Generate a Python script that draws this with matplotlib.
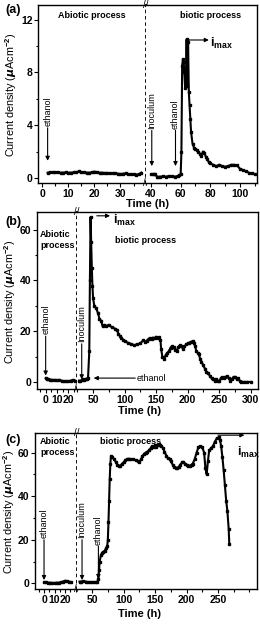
import matplotlib
matplotlib.use("Agg")
import matplotlib.pyplot as plt
from matplotlib.ticker import MultipleLocator, FixedLocator

plt.rcParams['font.family'] = ['Liberation Sans', 'DejaVu Sans']
plt.rcParams['font.weight'] = 'bold'
plt.rcParams['mathtext.fontset'] = 'custom'
plt.rcParams['mathtext.rm'] = 'Liberation Sans'
plt.rcParams['mathtext.bf'] = 'Liberation Sans:bold'

# panel (a): abiotic part (h, uA cm-2)
a_abio_t = [2, 3, 4, 5, 6, 7, 8, 9, 10, 11, 12, 13, 14, 15, 16, 17, 18, 19, 20,
            21, 22, 23, 24, 25, 26, 27, 28, 29, 30, 31, 32, 33, 34, 35, 36, 37, 38]
a_abio_j = [0.40, 0.42, 0.45, 0.43, 0.42, 0.40, 0.41, 0.42, 0.40, 0.41, 0.42, 0.44,
            0.50, 0.45, 0.42, 0.41, 0.40, 0.43, 0.48, 0.45, 0.40, 0.40, 0.38, 0.38,
            0.37, 0.36, 0.35, 0.33, 0.30, 0.33, 0.35, 0.30, 0.28, 0.27, 0.26, 0.28, 0.40]
# panel (a): biotic part
a_bio_t = [40, 41, 42, 43, 44, 45, 46, 48, 50, 52, 54, 56, 58, 59, 60, 60.5, 61, 61.5,
           62, 62.5, 63, 63.5, 64, 64.5, 65, 65.5, 66, 66.5, 67, 68, 69, 70, 71, 72, 73,
           74, 75, 76, 77, 78, 79, 80, 82, 84, 86, 88, 90, 92, 94, 96, 98, 100, 102,
           104, 106, 108, 110]
a_bio_j = [0.30, 0.30, 0.30, 0.28, 0.10, 0.08, 0.10, 0.12, 0.10, 0.15, 0.12, 0.10,
           0.15, 0.20, 0.30, 2.0, 8.5, 9.0, 8.8, 8.0, 6.8, 7.2, 10.5, 7.0, 10.3, 6.5,
           5.5, 4.5, 3.5, 2.6, 2.3, 2.2, 2.1, 2.0, 1.8, 1.7, 2.0, 1.9, 1.6, 1.4, 1.2,
           1.1, 1.0, 0.9, 1.0, 0.9, 0.85, 0.9, 1.0, 1.0, 0.95, 0.7, 0.6, 0.5, 0.4,
           0.35, 0.3]

# panel (b)
b_abio_t = [0, 1, 2, 4, 6, 8, 10, 12, 14, 16, 18, 20, 22, 24, 26]
b_abio_j = [1.5, 1.2, 1.0, 0.9, 0.8, 0.8, 0.7, 0.8, 0.5, 0.3, 0.2, 0.3, 0.5, 0.8, 0.5]
b_bio_t = [28, 30, 32, 34, 36, 38, 40, 42, 44, 45,
           46, 47, 48, 49, 50, 52, 55, 58, 60, 63,
           65, 68, 70, 75, 80, 85, 88, 90, 93, 95,
           98, 100, 105, 110, 115, 120, 125, 130, 133, 135,
           138, 140, 143, 145, 148, 150, 153, 155, 157, 158,
           160, 163, 165, 168, 170, 173, 175, 178, 180, 183,
           185, 188, 190, 193, 195, 198, 200, 203, 205, 208,
           210, 212, 214, 216, 218, 220, 222, 225, 228, 230,
           233, 235, 238, 240, 243, 245, 248, 250, 253, 255,
           258, 260, 263, 265, 268, 270, 273, 275, 278, 280,
           283, 285, 290, 295, 300]
b_bio_j = [0.5, 0.3, 0.8, 1.0, 0.9, 1.2, 1.3, 1.5, 12, 40,
           65, 55, 45, 38, 33, 30, 29, 27, 25, 24,
           22, 22.5, 22, 22.5, 21.5, 21, 20.5, 19, 18, 17.5,
           16.5, 16, 15.5, 15, 14.5, 14.8, 15.2, 16.5, 15.8, 16.2,
           17.0, 17.3, 16.8, 17.5, 17.2, 17.8, 17.5, 17.6, 16.5, 13,
           10, 9, 10.5, 11.5, 12, 13.5, 14, 13.8, 12.5, 12,
           13.8, 14.5, 14, 13, 14, 14.8, 15.2, 15.5, 15.8, 16,
           15.5, 14, 12, 11.5, 11, 9, 8, 6.5, 5, 4,
           3.5, 2.5, 1.5, 1.0, 0.5, 1.2, 0.5, 0.2, 1.5, 1.8,
           1.5, 2.0, 2.2, 1.5, 0.5, 1.0, 2.0, 1.8, 1.2, 1.5,
           0.3, 0, 0, 0, 0]

# panel (c)
c_abio_t = [0, 2, 4, 6, 8, 10, 12, 14, 16, 18, 20, 22, 24, 26]
c_abio_j = [0.5, 0.4, 0.3, 0.3, 0.2, 0.2, 0.3, 0.3, 0.5, 0.8, 1.2, 1.0, 0.8, 0.5]
c_bio_t = [30, 33, 36, 40, 43, 46, 50, 53, 56, 58,
           60, 61, 62, 64, 66, 68, 70, 72, 74, 75,
           76, 77, 78, 79, 80, 82, 85, 88, 90, 93,
           95, 98, 100, 103, 105, 108, 110, 115, 120, 123,
           125, 128, 130, 133, 135, 138, 140, 143, 145, 148,
           150, 152, 154, 156, 158, 160, 163, 165, 168, 170,
           173, 175, 178, 180, 183, 185, 188, 190, 193, 195,
           198, 200, 203, 205, 208, 210, 213, 216, 219, 222,
           225, 228, 230, 232, 234, 236, 239, 242, 245, 248,
           251, 253, 255, 257, 259, 261, 263, 265, 267, 268]
c_bio_j = [0.8, 0.8, 0.9, 0.8, 0.6, 0.5, 0.5, 0.4, 0.4, 0.5,
           2, 6, 10, 13, 14, 14.5, 15, 16, 17, 20,
           28, 38, 48, 55, 58.5, 58, 57, 55.5, 54.5, 54,
           54, 55, 55.5, 56.5, 57, 57.2, 57, 57, 56.5, 56,
           55.5, 57, 58.5, 59.5, 60, 60.5, 61, 62, 63, 62.5,
           63.5, 62.5, 63.5, 64, 63.5, 63, 62, 60.5, 58.5, 57.5,
           57, 56, 54.5, 53.5, 53, 53, 53.5, 54.5, 55.5, 55.5,
           55, 54.5, 54, 54, 54.5, 55, 57, 60, 62.5, 63,
           62.5, 60, 53, 50, 56, 61, 62, 63, 65, 66.5,
           67, 66, 63, 58, 52, 45, 38, 33, 25, 18]

W, H = 260, 626
fig = plt.figure(figsize=(W / 100, H / 100), dpi=100)


def px_axes(x, y, w, h):
    return fig.add_axes([x / W, 1 - (y + h) / H, w / W, h / H])


def make_panel(left, top, wl, wr, h, xl, xr, ylim, xt_l, xt_r, xm_l, xm_r, yt, ym):
    axl = px_axes(left, top, wl, h)
    axr = px_axes(left + wl, top, wr, h)
    for ax in (axl, axr):
        ax.set_ylim(*ylim)
        ax.tick_params(which='both', direction='out', width=0.8, labelsize=7.5, pad=1)
        ax.tick_params(which='major', length=3)
        ax.tick_params(which='minor', length=1.8)
        for s in ax.spines.values():
            s.set_linewidth(1.0)
    axl.set_xlim(*xl)
    axr.set_xlim(*xr)
    axl.xaxis.set_major_locator(FixedLocator(xt_l))
    axr.xaxis.set_major_locator(FixedLocator(xt_r))
    axl.xaxis.set_minor_locator(MultipleLocator(xm_l))
    axr.xaxis.set_minor_locator(MultipleLocator(xm_r))
    axl.yaxis.set_major_locator(FixedLocator(yt))
    axl.yaxis.set_minor_locator(MultipleLocator(ym))
    axl.spines['right'].set_linestyle((0, (1, 2.5)))
    axl.spines['right'].set_linewidth(1.3)
    axr.spines['left'].set_visible(False)
    axr.tick_params(axis='y', which='both', left=False, labelleft=False)
    # break marks
    for yy in (1, 0):
        axl.text(1, yy, '//', transform=axl.transAxes, ha='center', va='center',
                 fontsize=7, fontweight='normal')
    return axl, axr


line_kw = dict(color='k', lw=1.5, marker='s', ms=1.6)
arr_kw = dict(arrowstyle='-|>', color='k', lw=0.8, mutation_scale=6, shrinkA=0, shrinkB=0)
rot_kw = dict(rotation=90, ha='center', va='bottom', fontsize=6.5, fontweight='normal')


def event(ax, t, y0, y1, label):
    ax.annotate('', xy=(t, y1), xytext=(t, y0), arrowprops=arr_kw)
    ax.text(t, y0 + (ax.get_ylim()[1] - ax.get_ylim()[0]) * 0.01, label, **rot_kw)


def imax(ax, x0, x1, y, tx, ty):
    ax.annotate('', xy=(x1, y), xytext=(x0, y), arrowprops=arr_kw)
    ax.text(tx, ty, r'$\mathbf{i}_{\mathbf{max}}$', fontsize=9, ha='left', va='center')


# ---- (a)
al, ar = make_panel(38, 5, 108, 111, 178, (-1.7, 39.8), (36.6, 111.5), (-0.38, 13.1),
                    [0, 10, 20, 30], [40, 60, 80, 100], 5, 10, [0, 4, 8, 12], 2)
al.plot(a_abio_t, a_abio_j, **line_kw)
ar.plot(a_bio_t, a_bio_j, **line_kw)
event(al, 2, 3.8, 1.3, 'ethanol')
event(ar, 40.5, 3.6, 0.9, 'Inoculum')
event(ar, 56.5, 3.6, 0.9, 'ethanol')
imax(ar, 65.5, 79, 10.45, 79.5, 10.2)
al.text(0.5, 0.965, 'Abiotic process', transform=al.transAxes, ha='center', va='top', fontsize=6.5)
ar.text(0.58, 0.965, 'biotic process', transform=ar.transAxes, ha='center', va='top', fontsize=6.5)

# ---- (b)
bl, br = make_panel(36.5, 212, 40.5, 180.5, 177, (-8.1, 27.7), (24.5, 311), (-2.8, 67),
                    [0, 10, 20], [50, 100, 150, 200, 250, 300], 5, 25, [0, 20, 40, 60], 10)
bl.plot(b_abio_t, b_abio_j, **line_kw)
br.plot(b_bio_t, b_bio_j, **line_kw)
event(bl, 0, 18, 2.5, 'ethanol')
event(br, 32, 15, 1.0, 'Inoculum')
br.annotate('', xy=(51, 1.5), xytext=(117, 1.5), arrowprops=arr_kw)
br.text(119, 1.5, 'ethanol', ha='left', va='center', fontsize=6.5, fontweight='normal')
imax(br, 56, 77, 65.5, 82, 63.5)
bl.text(0.09, 0.9, 'Abiotic\nprocess', transform=bl.transAxes, ha='left', va='top',
        fontsize=6.5, linespacing=1.3)
br.text(0.21, 0.84, 'biotic process', transform=br.transAxes, ha='left', va='center', fontsize=6.5)

# ---- (c)
cl, cr = make_panel(35, 433, 42, 180, 156, (-8.6, 31.4), (26, 312), (-2.6, 69),
                    [0, 10, 20], [50, 100, 150, 200, 250], 5, 25, [0, 20, 40, 60], 10)
cl.plot(c_abio_t, c_abio_j, **line_kw)
cr.plot(c_bio_t, c_bio_j, **line_kw)
event(cl, 0, 20, 1.5, 'ethanol')
event(cr, 34, 20, 1.5, 'Inoculum')
event(cr, 60, 17, 2.0, 'ethanol')
imax(cr, 250, 292, 68, 280, 60)
cl.text(0.12, 0.975, 'Abiotic\nprocess', transform=cl.transAxes, ha='left', va='top',
        fontsize=6.5, linespacing=1.3)
cr.text(0.13, 0.975, 'biotic process', transform=cr.transAxes, ha='left', va='top', fontsize=6.5)

# shared labels
ylab = r'Current density ($\mu$Acm$^{-2}$)'
for cx, cy in ((11, 95), (10.5, 302), (9.5, 512)):
    fig.text(cx / W, 1 - cy / H, ylab, rotation=90, ha='center', va='center',
             fontsize=7.8, fontweight='normal')
for cx, cy in ((148, 204), (140, 411), (140, 614)):
    fig.text(cx / W, 1 - cy / H, 'Time (h)', ha='center', va='center', fontsize=8)
for lab, cy in (('(a)', 10), ('(b)', 222), ('(c)', 440)):
    fig.text(13 / W, 1 - cy / H, lab, ha='center', va='center', fontsize=9)

fig.savefig('out.png', dpi=100)
